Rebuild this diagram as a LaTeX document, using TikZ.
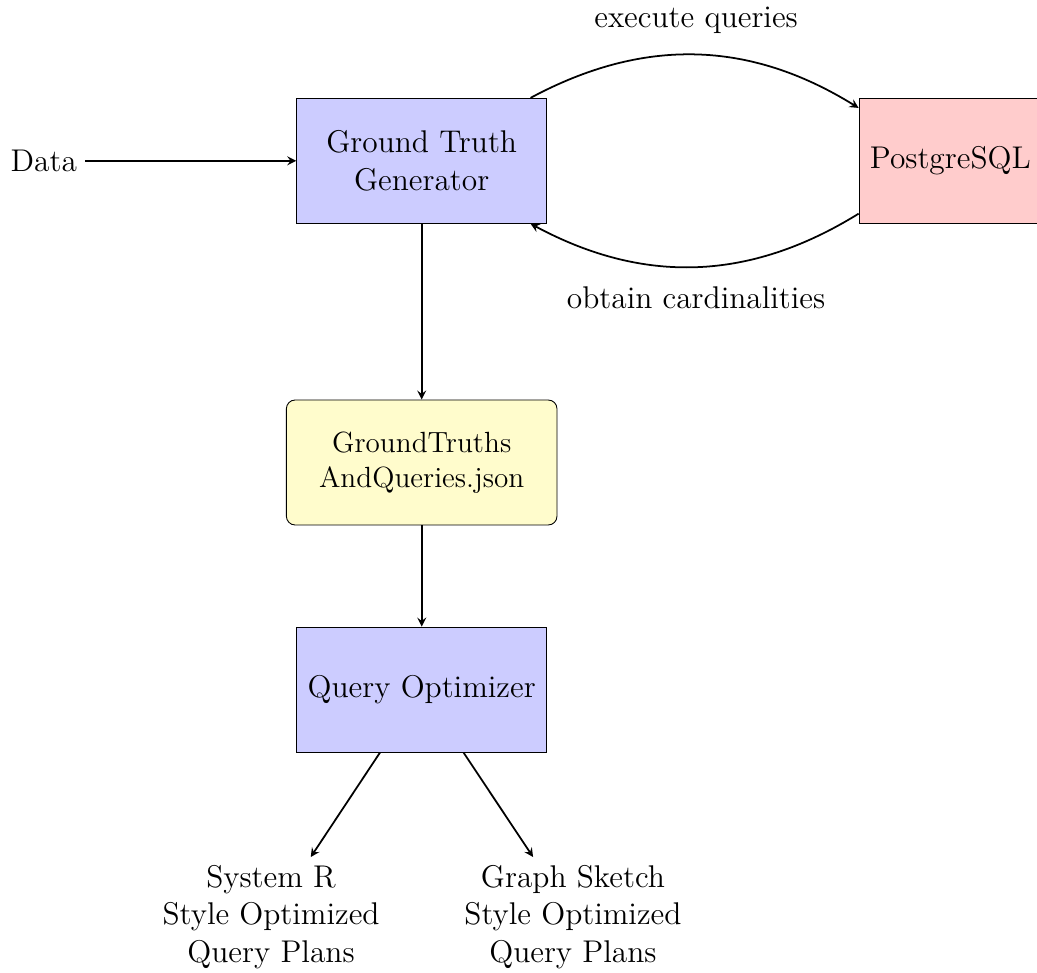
\documentclass[tikz,border=0pt]{standalone}
\usepackage{tikz}
\usetikzlibrary{shapes,shapes.geometric,calc,arrows}

\begin{document}
\begin{tikzpicture}
		[->,>=stealth,thick,every node/.style={font=\fontsize{14.3}{17.1}\selectfont,align=center},
		block/.style={shape=rectangle,draw,thin,fill=blue!20,minimum width=4cm,minimum height=2cm},
		store/.style={shape=rectangle,draw,thin,fill=red!20,minimum width=2.92cm,minimum height=2cm},
		file/.style={shape=rectangle,draw,thin,rounded corners,fill=yellow!20,minimum width=4.33cm,
			minimum height=2cm,font=\fontsize{13.3}{16}\selectfont}]
		\useasboundingbox (-6.747,-12.979) rectangle (9.845,2.573);
		\node (data) at (-6.046,0) {Data};
		\node[block] (gt) at (0,0) {Ground Truth\\Generator};
		\node[store] (pg) at (8.458,0) {PostgreSQL};
		\node[file] (json) at (0,-4.827) {GroundTruths\\AndQueries.json};
		\node[block] (qo) at (0,-8.46) {Query Optimizer};
		\node (sysr) at (-2.41,-12.1) {System R\\Style Optimized\\Query Plans};
		\node (gsk) at (2.42,-12.1) {Graph Sketch\\Style Optimized\\Query Plans};
		\path
		\foreach \startNode/\endNode in {data/gt, gt/json, json/qo, qo/sysr, qo/gsk}
		{
			(\startNode) edge (\endNode)
		};
		\path
		(gt) edge[bend left=30] node[above=2mm] {execute queries} (pg)
		(pg) edge[bend left=30] node[below=1.8mm] {obtain cardinalities} (gt);
		\end{tikzpicture}
\end{document}
